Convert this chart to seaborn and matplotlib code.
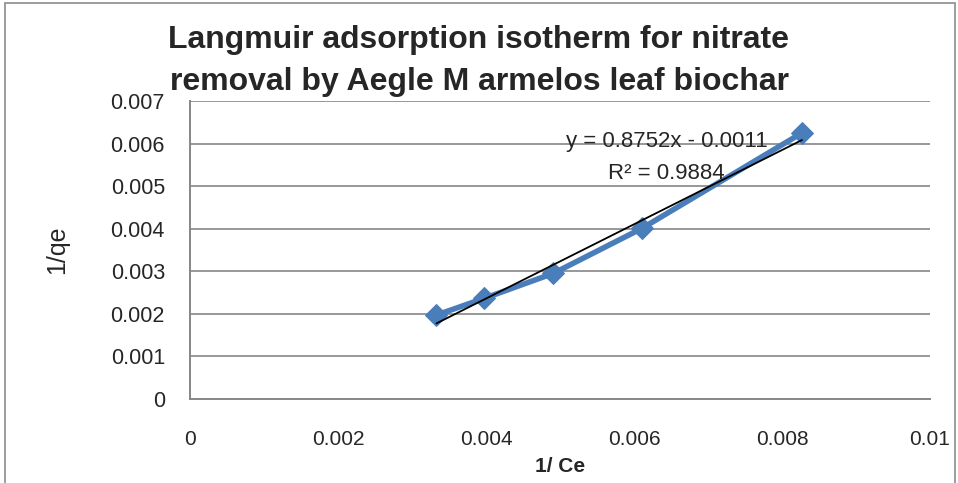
import matplotlib
matplotlib.use("Agg")
import matplotlib.pyplot as plt
import seaborn as sns
import numpy as np
from matplotlib.patches import Rectangle

sns.set_style("white")
plt.rcParams['font.family'] = ['Liberation Sans', 'DejaVu Sans']

# Data
inv_Ce = [0.00333, 0.00397, 0.00491, 0.00611, 0.00827]
inv_qe = [0.00197, 0.00236, 0.00295, 0.00401, 0.00625]

x_ticks = [0, 0.002, 0.004, 0.006, 0.008, 0.01]
x_tick_labels = ['0', '0.002', '0.004', '0.006', '0.008', '0.01']
y_ticks = [0, 0.001, 0.002, 0.003, 0.004, 0.005, 0.006, 0.007]
y_tick_labels = ['0', '0.001', '0.002', '0.003', '0.004', '0.005', '0.006', '0.007']

title_lines = ['Langmuir adsorption isotherm for nitrate',
               'removal by Aegle M armelos leaf biochar']
eq_text = 'y = 0.8752x - 0.0011'
r2_text = 'R² = 0.9884'

fig = plt.figure(figsize=(9.58, 4.83), dpi=100)
ax = fig.add_axes([0.1983, 0.174, 0.7725, 0.617])

# outer chart frame
fig.patches.append(Rectangle((5/958, -0.05), 950/958, 1.05 - 3/483,
                             transform=fig.transFigure, fill=False,
                             edgecolor='#8c8c8c', linewidth=1.2))

grid_col = '#868686'
for yv in y_ticks[1:]:
    ax.axhline(yv, color=grid_col, linewidth=1.2, zorder=0)

# data series
sns.lineplot(x=inv_Ce, y=inv_qe, ax=ax, color='#4a7ebb', linewidth=4,
             marker='D', markersize=11, markeredgecolor='#4a7ebb', zorder=3)

# linear trendline
sns.regplot(x=np.array(inv_Ce), y=np.array(inv_qe), ax=ax, scatter=False,
            ci=None, truncate=True, color='black', line_kws={'linewidth': 1.3, 'zorder': 4})

ax.set_xlim(0, 0.01)
ax.set_ylim(0, 0.007)
ax.set_xticks(x_ticks)
ax.set_xticklabels(x_tick_labels, fontsize=15)
ax.set_yticks(y_ticks)
ax.set_yticklabels(y_tick_labels, fontsize=15.5)
ax.tick_params(axis='x', direction='out', length=6, width=1.2, color=grid_col, pad=16)
ax.tick_params(axis='y', direction='inout', length=10, width=1.2, color=grid_col, pad=13)

for side in ['top', 'right']:
    ax.spines[side].set_visible(False)
for side in ['left', 'bottom']:
    ax.spines[side].set_color(grid_col)
    ax.spines[side].set_linewidth(1.4)

ax.set_xlabel('1/ Ce', fontsize=15, fontweight='bold', labelpad=6)
ax.set_ylabel('1/qe', fontsize=18, labelpad=30)

ax.text(0.00644, 0.00604, eq_text, fontsize=16, ha='center', va='center')
ax.text(0.00644, 0.0053, r2_text, fontsize=16, ha='center', va='center')

fig.text(0.5, 1 - 40/483, title_lines[0], fontsize=23, fontweight='bold', ha='center', va='center')
fig.text(0.5, 1 - 82/483, title_lines[1], fontsize=23, fontweight='bold', ha='center', va='center')

fig.savefig('out.png', dpi=100)
